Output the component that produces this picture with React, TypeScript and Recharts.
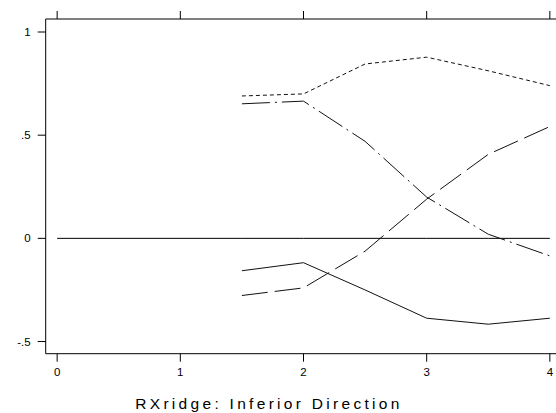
import { LineChart, Line, XAxis, YAxis } from 'recharts';

// x positions of the four estimates
const xs = [1.5, 2, 2.5, 3, 3.5, 4];
const shortDash = [0.69, 0.7, 0.845, 0.878, 0.812, 0.74];
const dashDot = [0.652, 0.665, 0.47, 0.2, 0.02, -0.085];
const longDash = [-0.277, -0.24, -0.062, 0.19, 0.407, 0.542];
const solid = [-0.157, -0.118, -0.25, -0.387, -0.416, -0.387];

const xTicks = [0, 1, 2, 3, 4];
const yTicks = [-0.5, 0, 0.5, 1];
const title = 'RXridge: Inferior Direction';

const rows = [
  { x: 0, zero: 0 },
  ...xs.map((x, i) => ({
    x,
    zero: 0,
    shortDash: shortDash[i],
    dashDot: dashDot[i],
    longDash: longDash[i],
    solid: solid[i],
  })),
];

// Stata style numbers: .5, -.5
const fmt = (v: number) => String(v).replace('0.', '.');

const font = { fontFamily: '"Liberation Sans", Arial, sans-serif', fontSize: 11.5, fill: '#000' };

export default function App() {
  return (
    <div style={{ position: 'fixed', left: 0, top: 0, width: 556, height: 413, overflow: 'hidden', background: '#fff' }}>
      <LineChart width={575} height={413} data={rows} margin={{ top: 0, right: 13.7, left: 0, bottom: 0 }}>
        <XAxis
          dataKey="x"
          type="number"
          domain={[-0.093, 4.093]}
          ticks={xTicks}
          allowDataOverflow
          height={59.3}
          tickSize={8}
          tickMargin={6.5}
          tick={font}
          stroke="#000"
        />
        <XAxis
          xAxisId="top"
          orientation="top"
          dataKey="x"
          type="number"
          domain={[-0.093, 4.093]}
          ticks={xTicks}
          allowDataOverflow
          height={19}
          tickSize={8}
          tickFormatter={() => ''}
          stroke="#000"
        />
        <YAxis
          type="number"
          domain={[-0.559, 1.063]}
          ticks={yTicks}
          allowDataOverflow
          width={45.7}
          tickSize={8}
          tickMargin={7}
          tick={font}
          tickFormatter={fmt}
          stroke="#000"
        />
        <Line dataKey="zero" stroke="#000" strokeWidth={1} dot={false} isAnimationActive={false} />
        <Line dataKey="shortDash" stroke="#111" strokeWidth={1} strokeDasharray="4 3" dot={false} isAnimationActive={false} />
        <Line dataKey="dashDot" stroke="#111" strokeWidth={1} strokeDasharray="28 5 2 5" dot={false} isAnimationActive={false} />
        <Line dataKey="longDash" stroke="#111" strokeWidth={1} strokeDasharray="26 7" dot={false} isAnimationActive={false} />
        <Line dataKey="solid" stroke="#111" strokeWidth={1} dot={false} isAnimationActive={false} />
      </LineChart>
      <svg width={556} height={413} style={{ position: 'absolute', left: 0, top: 0, pointerEvents: 'none' }}>
        <text
          x={269}
          y={408.5}
          textAnchor="middle"
          fontFamily='"Liberation Sans", Arial, sans-serif'
          fontSize={15.5}
          letterSpacing={3.3}
          fill="#000"
        >
          {title}
        </text>
      </svg>
    </div>
  );
}
